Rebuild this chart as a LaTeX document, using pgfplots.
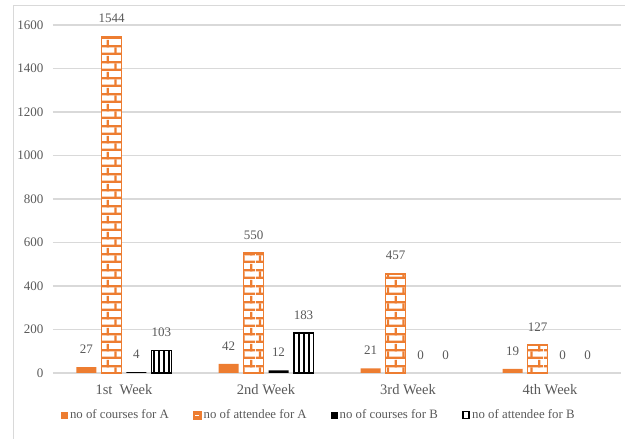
\documentclass[border=0pt]{standalone}
\usepackage{pgfplots}
\pgfplotsset{compat=1.18}
\usetikzlibrary{patterns.meta}
\usepackage{fontspec}
\setmainfont{Liberation Serif}

\definecolor{txtgray}{HTML}{595959}
\definecolor{gridgray}{HTML}{D9D9D9}
\definecolor{xlorange}{HTML}{ED7D31}

% brick fill of the "attendee for A" bars
\tikzdeclarepattern{
  name=bricksA,
  type=uncolored,
  bottom left={(0pt,0pt)},
  top right={(32pt,16pt)},
  tile size={(32pt,16pt)},
  code={
    \fill (0pt,0pt) rectangle (32pt,2.4pt);
    \fill (0pt,8pt) rectangle (32pt,10.4pt);
    \fill (3pt,0pt) rectangle (5.2pt,8pt);
    \fill (19pt,0pt) rectangle (21.2pt,8pt);
    \fill (11pt,8pt) rectangle (13.2pt,16pt);
    \fill (27pt,8pt) rectangle (29.2pt,16pt);
  }
}
% vertical stripes of the "attendee for B" bars
\tikzdeclarepattern{
  name=stripesB,
  type=uncolored,
  bottom left={(0pt,0pt)},
  top right={(4.5pt,400pt)},
  tile size={(4.5pt,400pt)},
  code={
    \fill (0pt,0pt) rectangle (2.2pt,400pt);
  }
}

\begin{document}
\begin{tikzpicture}
\path[use as bounding box] (0pt,0pt) rectangle (625pt,439pt);
\draw[gridgray, line width=0.8pt] (13pt,0pt) -- (13pt,434pt) -- (625pt,434pt);

\begin{axis}[
  at={(53pt,66pt)}, anchor=south west,
  scale only axis,
  width=568pt, height=348pt,
  ybar, bar width=20pt,
  xmin=-0.5, xmax=3.5,
  ymin=0, ymax=1600,
  xtick=data,
  xticklabels={1st\ \ Week, 2nd Week, 3rd Week, 4th Week},
  ytick={0,200,...,1600},
  axis line style={draw=none},
  major tick length=0pt,
  ymajorgrids,
  grid style={gridgray, line width=1.2pt},
  axis x line*=bottom,
  axis y line*=left,
  tick label style={txtgray, font=\fontsize{13}{15}\selectfont},
  xticklabel style={font=\fontsize{14.5}{16}\selectfont, yshift=-8pt},
  yticklabel style={xshift=-6pt},
  /pgf/number format/assume math mode=true,
  /pgf/number format/1000 sep={},
  clip=false,
  nodes near coords,
  every node near coord/.append style={txtgray, font=\fontsize{13}{15}\selectfont, yshift=10pt},
  legend style={
    at={(0.468,-0.121)}, anchor=center,
    draw=none, fill=none,
    legend columns=4,
    font=\fontsize{12.8}{15}\selectfont,
    text=txtgray,
    /tikz/every even column/.append style={column sep=22pt},
    inner sep=0pt,
  },
  legend cell align=left,
]
\addplot[bar shift=-37.5pt, draw=none, fill=xlorange,
  legend image code/.code={\fill[xlorange] (0pt,-3.5pt) rectangle (7pt,3.5pt);}]
  coordinates {(0,27) (1,42) (2,21) (3,19)};
\addlegendentry{no of courses for A}

\addplot[bar shift=-12.5pt, draw=xlorange, line width=1.8pt, fill=white,
  postaction={pattern={bricksA}, pattern color=xlorange},
  legend image code/.code={\fill[xlorange] (0pt,-3.5pt) rectangle (7pt,3.5pt);
    \draw[white, line width=0.8pt] (1.5pt,0pt) -- (5.5pt,0pt);}]
  coordinates {(0,1544) (1,550) (2,457) (3,127)};
\addlegendentry{no of attendee for A}

\addplot[bar shift=12.5pt, draw=none, fill=black,
  legend image code/.code={\fill[black] (0pt,-3.5pt) rectangle (7pt,3.5pt);}]
  coordinates {(0,4) (1,12)};
\addlegendentry{no of courses for B}

\addplot[bar shift=37.5pt, draw=black, line width=1.4pt, fill=white,
  postaction={pattern={stripesB}, pattern color=black},
  legend image code/.code={\fill[black] (0pt,-3.5pt) rectangle (7pt,3.5pt);
    \fill[white] (2.5pt,-2pt) rectangle (4.5pt,2pt);}]
  coordinates {(0,103) (1,183)};
\addlegendentry{no of attendee for B}

% zero values of the B series: labels only, no visible bar
\addplot[bar shift=12.5pt, draw=none, fill=none, forget plot]
  coordinates {(2,0) (3,0)};
\addplot[bar shift=37.5pt, draw=none, fill=none, forget plot]
  coordinates {(2,0) (3,0)};
\end{axis}
\end{tikzpicture}
\end{document}
